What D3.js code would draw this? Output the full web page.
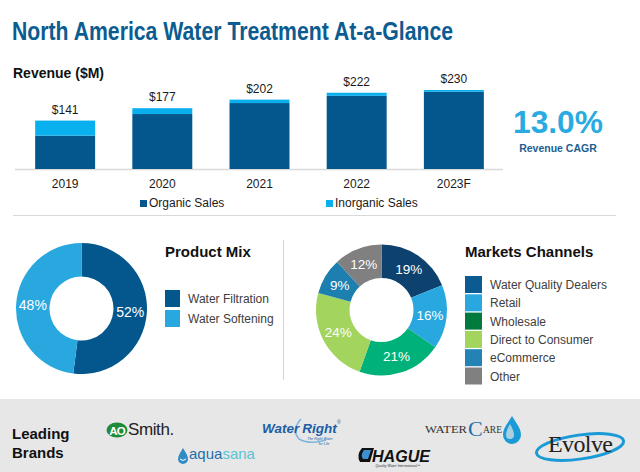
<!DOCTYPE html>
<html><head><meta charset="utf-8">
<script src="https://cdn.jsdelivr.net/npm/d3@7"></script>
<style>
body{margin:0;background:#fff}
svg{display:block}
</style>
</head><body>
<svg id="c" width="640" height="472" font-family="'Liberation Sans',Arial,sans-serif"></svg>
<script>
// ---------- DATA ----------
const years = ["2019", "2020", "2021", "2022", "2023F"];
const organicSales = [97, 160, 192, 213, 225];
const inorganicSales = [44, 17, 10, 9, 5];
const barSeries = ["Organic Sales", "Inorganic Sales"];
const cagrValue = "13.0%";
const cagrCaption = "Revenue CAGR";
const productMixLabels = ["Water Filtration", "Water Softening"];
const productMixValues = [52, 48];
const channelLabels = ["Water Quality Dealers", "Retail", "Wholesale", "Direct to Consumer", "eCommerce", "Other"];
const channelValues = [19, 16, 21, 24, 9, 12];
const brandNames = ["AO Smith", "aquasana", "WaterRight", "HAGUE", "WATERCARE", "Evolve"];

// ---------- STYLE ----------
const barColors = ["#03578D", "#0AB0EE"];
const mixColors = ["#03578D", "#29A8E0"];
const channelSliceColors = ["#0D426F", "#29A8E0", "#00B27A", "#A2D45E", "#1C7FB0", "#808080"];
const channelLegendColors = ["#0C5A92", "#29A8E0", "#007A3D", "#A2D45E", "#2383B5", "#808080"];
const serif = "'Liberation Serif','Times New Roman',serif";

const svg = d3.select("#c");

// Title
svg.append("text").attr("x", 12).attr("y", 40)
  .attr("font-family", "'Liberation Sans Narrow','Arial Narrow','Liberation Sans',sans-serif")
  .attr("font-weight", "bold").attr("font-size", 25.5).attr("fill", "#0B5C91")
  .attr("textLength", 441).attr("lengthAdjust", "spacingAndGlyphs")
  .text("North America Water Treatment At-a-Glance");

// Revenue heading
svg.append("text").attr("x", 13).attr("y", 78).attr("font-weight", "bold")
  .attr("font-size", 14).attr("fill", "#111").text("Revenue ($M)");

// ---------- BAR CHART ----------
const x = d3.scaleBand().domain(years).range([6, 513]).paddingInner(0.383).paddingOuter(0.3);
const y = d3.scaleLinear().domain([0, 230]).range([169, 90]);

const stackData = years.map((yr, i) => ({year: yr, organic: organicSales[i], inorganic: inorganicSales[i]}));
const stack = d3.stack().keys(["organic", "inorganic"])(stackData);

svg.append("line").attr("x1", 15).attr("x2", 503).attr("y1", 169.5).attr("y2", 169.5)
  .attr("stroke", "#D9D9D9").attr("stroke-width", 1.5);

svg.append("g").selectAll("g").data(stack).join("g")
  .attr("fill", (d, i) => barColors[i])
  .selectAll("rect").data(d => d).join("rect")
  .attr("x", d => x(d.data.year)).attr("width", x.bandwidth())
  .attr("y", d => y(d[1])).attr("height", d => y(d[0]) - y(d[1]));

// total labels
svg.append("g").selectAll("text").data(stackData).join("text")
  .attr("x", d => x(d.year) + x.bandwidth() / 2)
  .attr("y", d => y(d.organic + d.inorganic) - 7)
  .attr("text-anchor", "middle").attr("font-size", 12).attr("fill", "#1a1a1a")
  .text(d => "$" + (d.organic + d.inorganic));

// x axis labels
const xAxis = svg.append("g").attr("transform", "translate(0,178)")
  .call(d3.axisBottom(x).tickSize(0).tickPadding(0));
xAxis.select(".domain").remove();
xAxis.selectAll("text").attr("font-size", 12).attr("fill", "#1a1a1a")
  .attr("font-family", "'Liberation Sans',Arial,sans-serif").attr("dy", "0.85em");

// bar legend
const barLegendX = [140, 326];
barSeries.forEach((s, i) => {
  svg.append("rect").attr("x", barLegendX[i]).attr("y", 200).attr("width", 7).attr("height", 7).attr("fill", barColors[i]);
  svg.append("text").attr("x", barLegendX[i] + 9).attr("y", 207).attr("font-size", 12).attr("fill", "#1a1a1a").text(s);
});

svg.append("line").attr("x1", 13).attr("x2", 616).attr("y1", 215.5).attr("y2", 215.5)
  .attr("stroke", "#D9D9D9").attr("stroke-width", 1.2);

// CAGR
svg.append("text").attr("x", 558).attr("y", 133).attr("text-anchor", "middle")
  .attr("font-weight", "bold").attr("font-size", 31).attr("fill", "#29ABE2")
  .attr("textLength", 90).attr("lengthAdjust", "spacingAndGlyphs").text(cagrValue);
svg.append("text").attr("x", 558).attr("y", 152).attr("text-anchor", "middle")
  .attr("font-weight", "bold").attr("font-size", 10.5).attr("fill", "#1C5E92").text(cagrCaption);

// ---------- DONUTS ----------
const pie = d3.pie().sort(null).value(d => d);
const arc = d3.arc().innerRadius(32).outerRadius(65.5);

function donut(cx, cy, values, colors, fontSize, weight) {
  const g = svg.append("g").attr("transform", `translate(${cx},${cy})`);
  const arcs = pie(values);
  g.selectAll("path").data(arcs).join("path").attr("d", arc).attr("fill", (d, i) => colors[i]);
  g.selectAll("text").data(arcs).join("text")
    .attr("transform", d => `translate(${arc.centroid(d)})`)
    .attr("text-anchor", "middle").attr("dy", "0.36em")
    .attr("font-size", fontSize).attr("font-weight", weight).attr("fill", "#fff")
    .text(d => d.data + "%");
}

donut(81.5, 308.5, productMixValues, mixColors, 14, "normal");
donut(381.5, 310, channelValues, channelSliceColors, 13.5, "normal");

// Product mix legend
svg.append("text").attr("x", 165).attr("y", 257).attr("font-weight", "bold").attr("font-size", 15).attr("fill", "#111").text("Product Mix");
productMixLabels.forEach((l, i) => {
  svg.append("rect").attr("x", 165).attr("y", 290 + i * 20).attr("width", 15).attr("height", 17).attr("fill", mixColors[i]);
  svg.append("text").attr("x", 188).attr("y", 303 + i * 20).attr("font-size", 12).attr("fill", "#404040").text(l);
});

// divider
svg.append("line").attr("x1", 283.5).attr("x2", 283.5).attr("y1", 240).attr("y2", 380)
  .attr("stroke", "#D5D5D5").attr("stroke-width", 1);

// Markets legend
svg.append("text").attr("x", 465).attr("y", 257).attr("font-weight", "bold").attr("font-size", 15).attr("fill", "#111").text("Markets Channels");
channelLabels.forEach((l, i) => {
  svg.append("rect").attr("x", 465).attr("y", 276 + i * 18.3).attr("width", 17).attr("height", 17).attr("fill", channelLegendColors[i]);
  svg.append("text").attr("x", 490).attr("y", 289 + i * 18.3).attr("font-size", 12).attr("fill", "#404040").text(l);
});

// ---------- FOOTER ----------
svg.append("rect").attr("x", 0).attr("y", 399).attr("width", 640).attr("height", 73).attr("fill", "#E7E7E7");
svg.append("text").attr("x", 12).attr("y", 439).attr("font-weight", "bold").attr("font-size", 15).attr("fill", "#111").text("Leading");
svg.append("text").attr("x", 12).attr("y", 458).attr("font-weight", "bold").attr("font-size", 15).attr("fill", "#111").text("Brands");

const dropPath = "M0,-8 C3,-3 5,0 5,3 A5,5 0 0 1 -5,3 C-5,0 -3,-3 0,-8 Z";

// AO Smith
svg.append("ellipse").attr("cx", 117).attr("cy", 430).attr("rx", 10.5).attr("ry", 7.5).attr("fill", "#1E8B3A");
svg.append("text").attr("x", 117).attr("y", 434.5).attr("text-anchor", "middle").attr("font-weight", "bold")
  .attr("font-size", 11.5).attr("fill", "#fff").attr("letter-spacing", -0.8).text("AO");
svg.append("text").attr("x", 128).attr("y", 435).attr("font-size", 17).attr("fill", "#222").attr("letter-spacing", -0.4).text("Smith.");

// aquasana
svg.append("path").attr("d", dropPath).attr("transform", "translate(183,456)").attr("fill", "#2F8CC6");
svg.append("path").attr("d", "M-3,3 Q0,6 3,3").attr("transform", "translate(183,456)").attr("fill", "none").attr("stroke", "#fff").attr("stroke-width", 1);
const aq = svg.append("text").attr("x", 189).attr("y", 459).attr("font-size", 15);
aq.append("tspan").attr("fill", "#1F6FA9").text("aqua");
aq.append("tspan").attr("fill", "#5BC2D5").text("sana");

// WaterRight
svg.append("path").attr("d", "M301,419 Q291,430 299,439 Q310,445 326,440").attr("fill", "none").attr("stroke", "#7DB5DE").attr("stroke-width", 1.5);
const wr = svg.append("text").attr("x", 262).attr("y", 433).attr("font-size", 13.5)
  .attr("font-weight", "bold").attr("font-style", "italic").attr("fill", "#1B5DA6");
wr.append("tspan").text("Water");
wr.append("tspan").attr("dx", 3).text("Right");
svg.append("text").attr("x", 337).attr("y", 424).attr("font-size", 5).attr("fill", "#1B5DA6").text("®");
svg.append("text").attr("x", 320).attr("y", 440).attr("text-anchor", "middle").attr("font-size", 3.5).attr("font-style", "italic").attr("fill", "#1B5DA6").text("The Right Water");
svg.append("text").attr("x", 324).attr("y", 444.5).attr("text-anchor", "middle").attr("font-size", 3.5).attr("font-style", "italic").attr("fill", "#1B5DA6").text("for Life");

// HAGUE
svg.append("path").attr("d", "M362,448 L374,448 L370,462 L360,462 Q356,455 362,448 Z").attr("fill", "#111");
svg.append("path").attr("d", "M364,450 L371,450 L368,459 L363,459 Q360,455 364,450 Z").attr("fill", "#3D8FD0");
svg.append("text").attr("x", 372).attr("y", 462).attr("font-size", 16).attr("font-weight", "bold").attr("font-style", "italic").attr("fill", "#111")
  .attr("textLength", 58).attr("lengthAdjust", "spacingAndGlyphs").text("HAGUE");
svg.append("text").attr("x", 398).attr("y", 467).attr("text-anchor", "middle").attr("font-size", 3.5).attr("font-style", "italic").attr("fill", "#333").text("Quality Water International™");

// WATERCARE
svg.append("text").attr("x", 425).attr("y", 433).attr("font-family", serif).attr("font-size", 10.5)
  .attr("fill", "#333").attr("textLength", 42).attr("lengthAdjust", "spacingAndGlyphs").text("WATER");
svg.append("text").attr("x", 468).attr("y", 436).attr("font-family", serif).attr("font-size", 22)
  .attr("fill", "#1E6FAF").text("C");
svg.append("text").attr("x", 483).attr("y", 433).attr("font-family", serif).attr("font-size", 10.5)
  .attr("fill", "#333").attr("textLength", 19).attr("lengthAdjust", "spacingAndGlyphs").text("ARE");
svg.append("path").attr("d", "M0,-14 C4,-7 9,-2 9,5 A9,9 0 0 1 -9,5 C-9,-2 -4,-7 0,-14 Z")
  .attr("transform", "translate(512,430)").attr("fill", "#1A9AD6");
svg.append("path").attr("d", "M0,-8 C2,-4 4,-1 4,3 A4,4 0 0 1 -4,3 C-4,-1 -2,-4 0,-8 Z")
  .attr("transform", "translate(510,432)").attr("fill", "#E7E7E7").attr("opacity", 0.7);

// Evolve
svg.append("ellipse").attr("cx", 0).attr("cy", 0).attr("rx", 44).attr("ry", 12)
  .attr("transform", "translate(580,447) rotate(-8)").attr("fill", "none").attr("stroke", "#1A9AD6").attr("stroke-width", 3);
svg.append("text").attr("x", 548).attr("y", 452).attr("font-family", serif)
  .attr("font-size", 24).attr("fill", "#222").attr("letter-spacing", -0.6).text("Evolve");
</script>
</body></html>
